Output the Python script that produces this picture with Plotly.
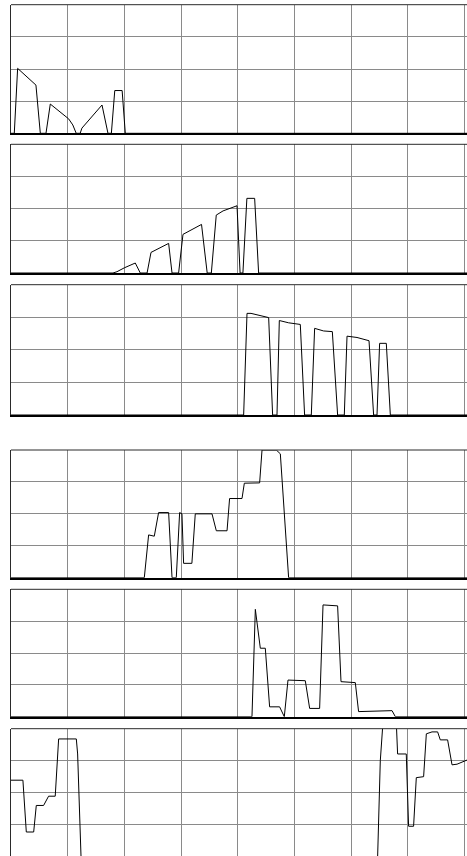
import plotly.graph_objects as go

# x in grid-column units (8 columns visible), y in grid-row units (0-4)
p1_x = [0, 0.058, 0.117, 0.44, 0.517, 0.617, 0.693, 1.016, 1.09, 1.15, 1.22, 1.25, 1.605, 1.71, 1.77, 1.83, 1.96, 2.016, 8.1]
p1_y = [0, 0, 2.02, 1.5, 0, 0, 0.91, 0.45, 0.26, 0, 0, 0.16, 0.88, 0, 0, 1.33, 1.33, 0, 0]

p2_x = [0, 1.799, 1.869, 1.998, 2.192, 2.28, 2.40, 2.469, 2.78, 2.84, 2.956, 3.033, 3.36, 3.46, 3.533, 3.62, 3.74, 3.986, 4.04, 4.09, 4.16, 4.297, 4.367, 8.1]
p2_y = [0, 0, 0.04, 0.16, 0.31, 0, 0, 0.64, 0.92, 0, 0, 1.2, 1.51, 0, 0, 1.8, 1.93, 2.09, 0, 0, 2.32, 2.32, 0, 0]

p3_x = [0, 4.103, 4.162, 4.233, 4.544, 4.614, 4.691, 4.732, 4.896, 5.102, 5.178, 5.296, 5.355, 5.513, 5.667, 5.76, 5.878, 5.926, 6.102, 6.314, 6.395, 6.455, 6.501, 6.619, 6.69, 8.1]
p3_y = [0, 0, 3.12, 3.12, 2.99, 0, 0, 2.90, 2.83, 2.78, 0, 0, 2.66, 2.58, 2.56, 0, 0, 2.42, 2.38, 2.28, 0, 0, 2.2, 2.2, 0, 0]

p4_x = [0, 2.351, 2.427, 2.527, 2.603, 2.78, 2.84, 2.915, 2.974, 3.015, 3.044, 3.19, 3.25, 3.545, 3.621, 3.81, 3.855, 4.074, 4.115, 4.385, 4.427, 4.679, 4.75, 4.896, 8.1]
p4_y = [0, 0, 1.34, 1.30, 2.04, 2.04, 0, 0, 2.04, 2.0, 0.45, 0.45, 2.0, 2.0, 1.47, 1.47, 2.48, 2.48, 2.96, 2.97, 4.0, 4.0, 3.88, 0, 0]

p5_x = [0, 4.25, 4.309, 4.397, 4.485, 4.561, 4.737, 4.82, 4.885, 5.19, 5.267, 5.443, 5.503, 5.76, 5.82, 6.072, 6.13, 6.72, 6.778, 8.1]
p5_y = [0, 0, 3.37, 2.15, 2.15, 0.31, 0.31, 0, 1.15, 1.13, 0.26, 0.26, 3.51, 3.48, 1.10, 1.07, 0.16, 0.19, 0, 0]

p6_x = [0, 0.21, 0.27, 0.40, 0.446, 0.575, 0.663, 0.78, 0.84, 1.152, 1.175, 1.235, 6.466, 6.513, 6.56, 6.795, 6.818, 6.971, 7.012, 7.1, 7.148, 7.277, 7.325, 7.425, 7.524, 7.571, 7.7, 7.778, 7.866, 8.042]
p6_y = [2.39, 2.39, 0.77, 0.77, 1.6, 1.6, 1.89, 1.89, 3.68, 3.68, 3.21, 0, 0, 3.0, 4.2, 4.2, 3.21, 3.21, 0.95, 0.95, 2.47, 2.5, 3.84, 3.9, 3.9, 3.65, 3.65, 2.87, 2.89, 3.02]

panels = [(p1_x, p1_y), (p2_x, p2_y), (p3_x, p3_y), (p4_x, p4_y), (p5_x, p5_y), (p6_x, p6_y)]

H = 856
# panel pixel extents (top, bottom) from the top of the page
extents = [(4.7, 133.3), (144.3, 273.0), (284.7, 415.0), (450.0, 577.7), (589.3, 716.7), (728.7, 856.0)]

GRID = "#8a8a8a"
DARK = "#2a2a2a"

fig = go.Figure()
layout = dict(
    width=467, height=H,
    margin=dict(l=11, r=0, t=0, b=0, pad=0),
    paper_bgcolor="white", plot_bgcolor="white",
    showlegend=False, shapes=[],
)

for i, ((xs, ys), (top, bot)) in enumerate(zip(panels, extents)):
    n = "" if i == 0 else str(i + 1)
    fig.add_trace(go.Scatter(x=xs, y=ys, mode="lines",
                             line=dict(color="black", width=1),
                             xaxis="x" + n, yaxis="y" + n, hoverinfo="skip"))
    last = (i == 5)
    layout["xaxis" + n] = dict(
        domain=[0, 1], anchor="y" + n, range=[0, 8.042],
        tick0=0, dtick=1, showgrid=True, gridcolor=GRID, gridwidth=1,
        showticklabels=False, ticks="", zeroline=False,
        showline=not last, linecolor="black", linewidth=2,
        fixedrange=True,
    )
    layout["yaxis" + n] = dict(
        domain=[1 - bot / H, 1 - top / H], anchor="x" + n,
        range=[0.02 if last else 0, 4],
        tick0=0, dtick=1, showgrid=True, gridcolor=GRID, gridwidth=1,
        showticklabels=False, ticks="", zeroline=False,
        showline=True, linecolor=DARK, linewidth=1,
        fixedrange=True,
    )
    layout["shapes"].append(dict(
        type="line", xref="x" + n + " domain", yref="y" + n + " domain",
        x0=0, x1=1, y0=1, y1=1, line=dict(color=DARK, width=1), layer="above"))

fig.update_layout(**layout)
fig.write_html(
    "out.html",
    config={"displayModeBar": False},
    post_script="document.body.style.margin='0';document.body.style.overflow='hidden';",
)
